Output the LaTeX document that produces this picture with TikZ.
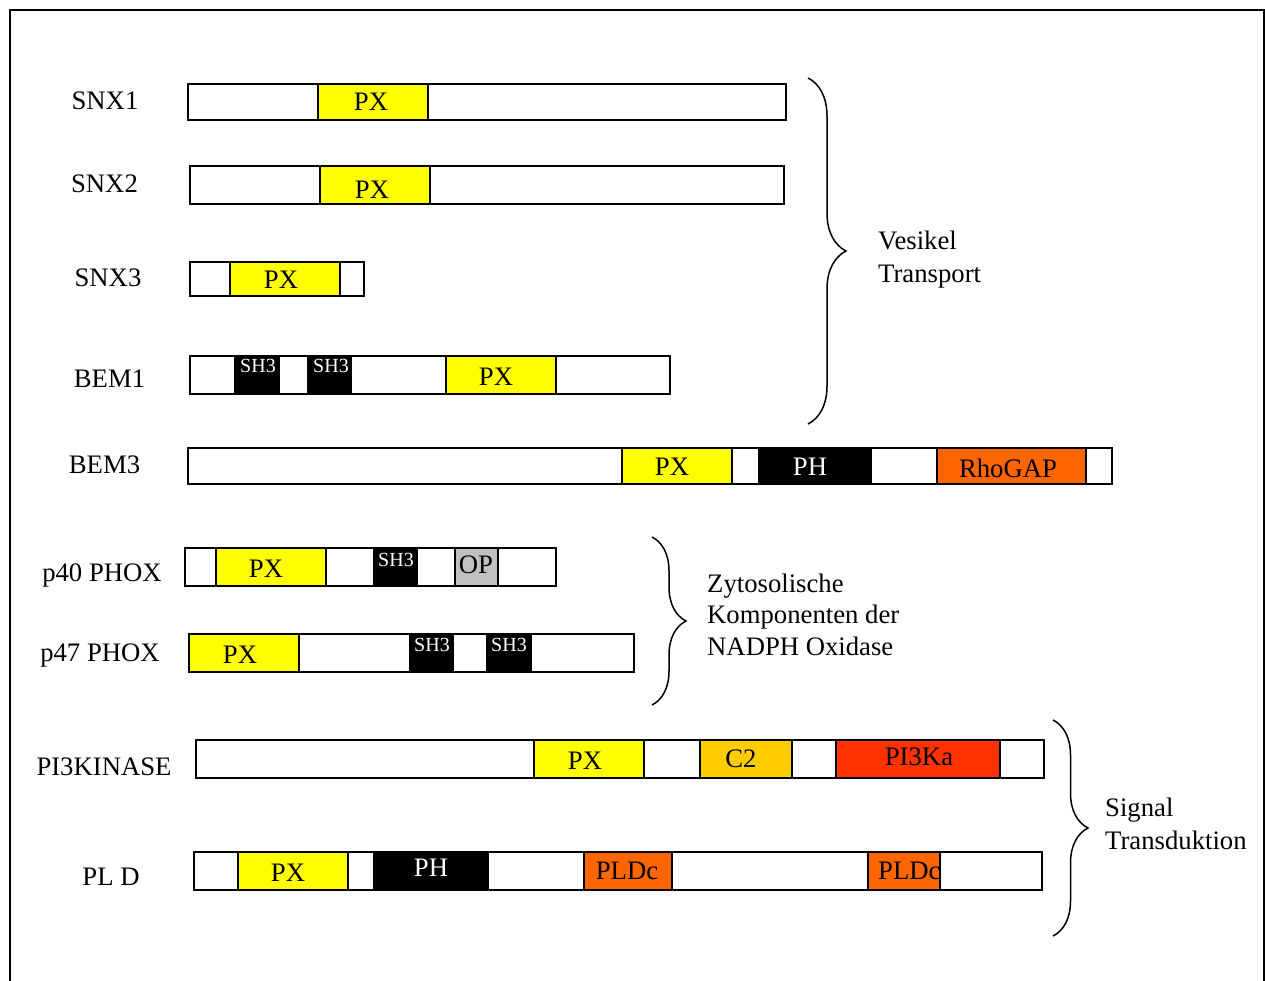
\documentclass[tikz,border=0pt]{standalone}
\usepackage{fontspec}
\setmainfont{Liberation Serif}
\usetikzlibrary{decorations.pathreplacing}
\definecolor{pxyel}{HTML}{FFFF00}
\definecolor{gaporange}{HTML}{FF6600}
\definecolor{pi3red}{HTML}{FF3300}
\definecolor{ctwo}{HTML}{FFCC00}
\definecolor{opgrey}{HTML}{C0C0C0}
\begin{document}
\begin{tikzpicture}[x=1pt,y=-1pt,
  lbl/.style={font=\fontsize{26.7}{30}\selectfont, inner sep=0pt, anchor=base},
  sml/.style={font=\fontsize{20}{24}\selectfont, inner sep=0pt, anchor=base, text=white},
  prot/.style={draw=black, line width=1.4pt, fill=white},
  dom/.style={draw=black, line width=1.4pt},
  brc/.style={decorate, decoration={brace, amplitude=#1}, line width=1.5pt}]
\useasboundingbox (0,0) rectangle (1265,981);
\draw[line width=2pt] (10,981) -- (10,10) -- (1264,10) -- (1264,981);

% SNX1
\node[lbl] (l1) at (105,110) {SNX1};
\draw[prot] (188,84) rectangle (786,120);
\draw[dom, fill=pxyel] (318,84) rectangle (428,120);
\node[lbl] (t1a) at (371,111) {PX};

% SNX2
\node[lbl] (l2) at (104.5,193) {SNX2};
\draw[prot] (190,166) rectangle (784,204);
\draw[dom, fill=pxyel] (320,166) rectangle (430,204);
\node[lbl] (t2a) at (372,199) {PX};

% SNX3
\node[lbl] (l3) at (108,287) {SNX3};
\draw[prot] (190,262) rectangle (364,296);
\draw[dom, fill=pxyel] (230,262) rectangle (340,296);
\node[lbl] (t3a) at (281,289) {PX};

% BEM1
\node[lbl] (l4) at (109.5,387) {BEM1};
\draw[prot] (190,356) rectangle (670,394);
\draw[dom, fill=black] (235,356) rectangle (279,394);
\draw[dom, fill=black] (308,356) rectangle (351,394);
\draw[dom, fill=pxyel] (446,356) rectangle (556,394);
\node[sml] (t4a) at (258,372) {SH3};
\node[sml] (t4b) at (331,372) {SH3};
\node[lbl] (t4c) at (496,385) {PX};

% BEM3
\node[lbl] (l5) at (104.5,473) {BEM3};
\draw[prot] (188,448) rectangle (1112,484);
\draw[dom, fill=pxyel] (622,448) rectangle (732,484);
\draw[dom, fill=black] (759,448) rectangle (871,484);
\draw[dom, fill=gaporange] (937,448) rectangle (1086,484);
\node[lbl] (t5a) at (672,475) {PX};
\node[lbl, text=white] (t5b) at (810,475) {PH};
\node[lbl] (t5c) at (1008,477) {RhoGAP};

% p40 PHOX
\node[lbl] (l6) at (102,581) {p40 PHOX};
\draw[prot] (185,548) rectangle (556,586);
\draw[dom, fill=pxyel] (216,548) rectangle (326,586);
\draw[dom, fill=black] (374,548) rectangle (417,586);
\draw[dom, fill=opgrey] (455,548) rectangle (498,586);
\node[lbl] (t6a) at (266,577) {PX};
\node[sml] (t6b) at (396,566) {SH3};
\node[lbl] (t6c) at (476,573) {OP};

% p47 PHOX
\node[lbl] (l7) at (100,661) {p47 PHOX};
\draw[prot] (189,634) rectangle (634,672);
\draw[dom, fill=pxyel] (189,634) rectangle (299,672);
\draw[dom, fill=black] (410,634) rectangle (453,672);
\draw[dom, fill=black] (487,634) rectangle (531,672);
\node[lbl] (t7a) at (240,663) {PX};
\node[sml] (t7b) at (432,651) {SH3};
\node[sml] (t7c) at (509,651) {SH3};

% PI3KINASE
\node[lbl] (l8) at (104,775) {PI3KINASE};
\draw[prot] (196,740) rectangle (1044,778);
\draw[dom, fill=pxyel] (534,740) rectangle (644,778);
\draw[dom, fill=ctwo] (700,740) rectangle (792,778);
\draw[dom, fill=pi3red] (836,740) rectangle (1000,778);
\node[lbl] (t8a) at (585,769) {PX};
\node[lbl] (t8b) at (741,767) {C2};
\node[lbl] (t8c) at (919,765) {PI3Ka};

% PL D
\node[lbl] (l9) at (111,885) {PL D};
\draw[prot] (194,852) rectangle (1042,890);
\draw[dom, fill=pxyel] (238,852) rectangle (348,890);
\draw[dom, fill=black] (374,852) rectangle (488,890);
\draw[dom, fill=gaporange] (584,852) rectangle (672,890);
\draw[dom, fill=gaporange] (868,852) rectangle (940,890);
\node[lbl] (t9a) at (288,881) {PX};
\node[lbl, text=white] (t9b) at (431,876) {PH};
\node[lbl] (t9c) at (627,879) {PLDc};
\begin{scope}
\clip (868,852) rectangle (940,890);
\node[lbl, anchor=base west] (t9d) at (878,879) {PLDc};
\end{scope}
\draw[dom] (868,852) rectangle (940,890);

% braces
\coordinate (b1s) at (808,78);
\coordinate (b1e) at (808,424);
\draw[brc=38pt] (b1s) -- (b1e);
\node[lbl, anchor=base west] (v1) at (878,250) {Vesikel};
\node[lbl, anchor=base west] (v2) at (878,283) {Transport};

\coordinate (b2s) at (652,537);
\coordinate (b2e) at (652,705);
\draw[brc=34pt] (b2s) -- (b2e);
\node[lbl, anchor=base west] (z1) at (707,592) {Zytosolische};
\node[lbl, anchor=base west] (z2) at (707,623) {Komponenten der};
\node[lbl, anchor=base west] (z3) at (707,655) {NADPH Oxidase};

\coordinate (b3s) at (1053,720);
\coordinate (b3e) at (1053,936);
\draw[brc=35pt] (b3s) -- (b3e);
\node[lbl, anchor=base west] (s1) at (1105,816) {Signal};
\node[lbl, anchor=base west] (s2) at (1105,849) {Transduktion};
\end{tikzpicture}
\end{document}
